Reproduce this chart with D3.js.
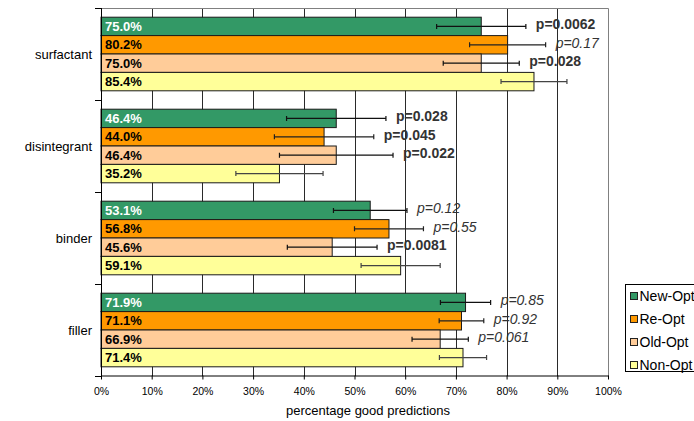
<!DOCTYPE html>
<html>
<head>
<meta charset="utf-8">
<script src="https://cdn.jsdelivr.net/npm/d3@7/dist/d3.min.js"></script>
<style>
  html, body { margin: 0; padding: 0; background: #fff; }
  svg { display: block; font-family: Arial, "Liberation Sans", sans-serif; }
</style>
</head>
<body>
<svg id="chart" width="694" height="421"></svg>
<script>
// Formulation categories, top to bottom
const categories = ["surfactant", "disintegrant", "binder", "filler"];
const seriesNames = ["New-Opt", "Re-Opt", "Old-Opt", "Non-Opt"];

// Percentage of good predictions per category
const newOpt = [75.0, 46.4, 53.1, 71.9];
const reOpt  = [80.2, 44.0, 56.8, 71.1];
const oldOpt = [75.0, 46.4, 45.6, 66.9];
const nonOpt = [85.4, 35.2, 59.1, 71.4];

// Error bar half-widths (percentage points)
const newOptErr = [8.8, 9.8, 7.25, 4.95];
const reOptErr  = [7.5, 9.8, 6.8, 4.4];
const oldOptErr = [7.5, 11.2, 8.85, 5.55];
const nonOptErr = [6.5, 8.6, 7.8, 4.65];

// Significance of each series against Non-Opt (empty for the reference series)
const newOptP = ["0.0062", "0.028", "0.12", "0.85"];
const reOptP  = ["0.17", "0.045", "0.55", "0.92"];
const oldOptP = ["0.028", "0.022", "0.0081", "0.061"];
const nonOptP = ["", "", "", ""];

const xTicks = [0, 10, 20, 30, 40, 50, 60, 70, 80, 90, 100];
const axisTitle = "percentage good predictions";

const colors = ["#339966", "#FF9900", "#FFCC99", "#FFFF99"];
const labelColors = ["#ffffff", "#000000", "#000000", "#000000"];
const errColors = ["#111", "#222", "#111", "#444"];

const seriesValues = [newOpt, reOpt, oldOpt, nonOpt];
const seriesErr = [newOptErr, reOptErr, oldOptErr, nonOptErr];
const seriesP = [newOptP, reOptP, oldOptP, nonOptP];

const rows = [];
categories.forEach((c, ci) => {
  seriesNames.forEach((s, si) => {
    rows.push({
      cat: c, series: s, si,
      value: seriesValues[si][ci],
      err: seriesErr[si][ci],
      p: seriesP[si][ci]
    });
  });
});

const plot = { left: 101, right: 608, top: 8, bottom: 376 };
const svg = d3.select("#chart");

const x = d3.scaleLinear().domain([0, 100]).range([plot.left, plot.right]);
const y0 = d3.scaleBand().domain(categories).range([plot.top, plot.bottom])
  .paddingInner(0.2).paddingOuter(0.1);
const y1 = d3.scaleBand().domain(seriesNames).range([0, y0.bandwidth()]);

// Vertical gridlines
svg.append("g")
  .selectAll("line")
  .data(xTicks.filter(t => t > 0 && t < 100))
  .join("line")
  .attr("x1", d => Math.round(x(d)) + 0.5)
  .attr("x2", d => Math.round(x(d)) + 0.5)
  .attr("y1", plot.top)
  .attr("y2", plot.bottom)
  .attr("stroke", "#2a2a2a")
  .attr("stroke-width", 1);

// Plot frame: top and right edges
svg.append("path")
  .attr("d", `M${plot.left},${plot.top + 0.5}H${plot.right + 0.5}V${plot.bottom}`)
  .attr("fill", "none")
  .attr("stroke", "#808080");

// Bars
const groups = svg.append("g")
  .selectAll("g")
  .data(rows)
  .join("g")
  .attr("transform", d => `translate(0,${y0(d.cat) + y1(d.series)})`);

groups.append("rect")
  .attr("x", x(0))
  .attr("y", 0)
  .attr("width", d => x(d.value) - x(0))
  .attr("height", y1.bandwidth())
  .attr("fill", d => colors[d.si])
  .attr("stroke", "#1a1a1a")
  .attr("stroke-width", 1);

// Value labels inside bars
groups.append("text")
  .attr("x", x(0) + 4)
  .attr("y", y1.bandwidth() / 2)
  .attr("dy", "0.36em")
  .attr("font-size", "13px")
  .attr("font-weight", "bold")
  .attr("fill", d => labelColors[d.si])
  .text(d => d.value.toFixed(1) + "%");

// Error bars
const cap = 2.5;
groups.append("path")
  .attr("d", d => {
    const lo = x(d.value - d.err), hi = x(d.value + d.err), m = y1.bandwidth() / 2;
    return `M${lo},${m}H${hi}M${lo},${m - cap}V${m + cap}M${hi},${m - cap}V${m + cap}`;
  })
  .attr("fill", "none")
  .attr("stroke", d => errColors[d.si])
  .attr("stroke-width", 1.2);

// p-value annotations: bold when significant, italic otherwise
groups.filter(d => d.p !== "")
  .append("text")
  .attr("x", d => x(d.value + d.err) + 10)
  .attr("y", y1.bandwidth() / 2 - 2)
  .attr("dy", "0.36em")
  .attr("font-size", "14px")
  .attr("fill", "#333")
  .attr("font-weight", d => (+d.p < 0.05 ? "bold" : "normal"))
  .attr("font-style", d => (+d.p < 0.05 ? "normal" : "italic"))
  .text(d => "p=" + d.p);

// Category axis
const yAxis = svg.append("g").attr("transform", `translate(${plot.left},0)`);
yAxis.append("line")
  .attr("x1", 0.5).attr("x2", 0.5)
  .attr("y1", plot.top).attr("y2", plot.bottom)
  .attr("stroke", "#000");
const boundaries = [plot.top].concat(categories.map(c => y0(c) - y0.step() * y0.paddingInner() / 2 + y0.step()));
yAxis.selectAll("line.tick")
  .data(boundaries)
  .join("line")
  .attr("class", "tick")
  .attr("x1", -6).attr("x2", 0.5)
  .attr("y1", d => Math.round(d) + 0.5).attr("y2", d => Math.round(d) + 0.5)
  .attr("stroke", "#000");
yAxis.selectAll("text")
  .data(categories)
  .join("text")
  .attr("x", -9)
  .attr("y", d => y0(d) + y0.bandwidth() / 2)
  .attr("dy", "0.36em")
  .attr("text-anchor", "end")
  .attr("font-size", "13px")
  .attr("fill", "#000")
  .text(d => d);

// Value axis
const xAxis = svg.append("g")
  .attr("transform", `translate(0,${plot.bottom - 0.5})`)
  .call(d3.axisBottom(x).tickValues(xTicks).tickSize(4).tickSizeOuter(0).tickFormat(d => d + "%"));
xAxis.select(".domain").attr("stroke", "#000");
xAxis.selectAll(".tick line").attr("stroke", "#000");
xAxis.selectAll(".tick text")
  .attr("font-size", "10.5px")
  .attr("font-family", "Arial, 'Liberation Sans', sans-serif")
  .attr("fill", "#000")
  .attr("y", 12);

svg.append("text")
  .attr("x", 368)
  .attr("y", 415)
  .attr("text-anchor", "middle")
  .attr("font-size", "13px")
  .attr("fill", "#000")
  .text(axisTitle);

// Legend
const legend = svg.append("g").attr("transform", "translate(625,284)");
legend.append("rect")
  .attr("x", 0.5).attr("y", 0.5)
  .attr("width", 80).attr("height", 87)
  .attr("fill", "#fff")
  .attr("stroke", "#000");
const items = legend.selectAll("g.item")
  .data(seriesNames)
  .join("g")
  .attr("class", "item")
  .attr("transform", (d, i) => `translate(0,${12 + i * 23})`);
items.append("rect")
  .attr("x", 5.5).attr("y", -3.5)
  .attr("width", 7).attr("height", 7)
  .attr("fill", (d, i) => colors[i])
  .attr("stroke", "#222");
items.append("text")
  .attr("x", 14.5)
  .attr("y", 0)
  .attr("dy", "0.36em")
  .attr("font-size", "14px")
  .attr("fill", "#000")
  .text(d => d);
</script>
</body>
</html>
